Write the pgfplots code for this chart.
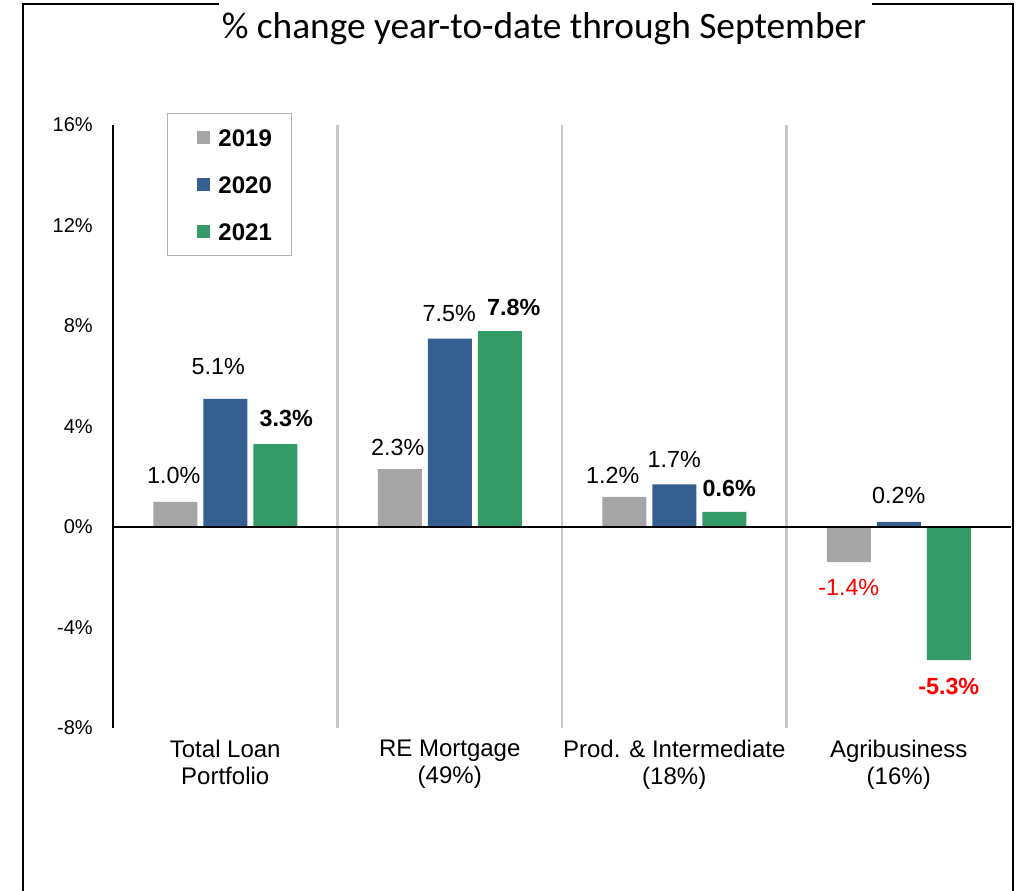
\documentclass[border=0pt]{standalone}
\usepackage{pgfplots}
\pgfplotsset{compat=1.18}
\usepackage{pgfplotstable}
\usepackage{fontspec}
\setmainfont{Liberation Sans}
\newfontfamily\titlefont{Carlito}
\definecolor{cgray}{HTML}{A5A5A5}
\definecolor{cblue}{HTML}{355F91}
\definecolor{cgreen}{HTML}{349A67}
\definecolor{csep}{HTML}{C8C8C8}
\pgfplotstableread{
x y dx dy
0 1.0 -1.1 1.1
1 2.3 -1.5 -2.6
2 1.2 -8.6 -2.6
3 -1.4 0 -0.4
}\tabA
\pgfplotstableread{
x y dx dy
0 5.1 -5.2 5.2
1 7.5 -0.4 0
2 1.7 0 -0.4
3 0.2 0 0.8
}\tabB
\pgfplotstableread{
x y dx dy
0 3.3 8.2 0.4
1 7.8 10.5 -1.5
2 0.6 3.8 -1.1
3 -5.3 0 -0.8
}\tabC
\pgfplotsset{shifted labels/.style={
  visualization depends on={\thisrow{dx}\as\dx},
  visualization depends on={\thisrow{dy}\as\dy},
  every node near coord/.append style={xshift=\dx pt, yshift=\dy pt}}}
\begin{document}
\begin{tikzpicture}
\useasboundingbox (0,0) rectangle (763.5pt,668.25pt);
\draw[line width=1.5pt] (17.25pt,0) -- (17.25pt,665.25pt) -- (164.25pt,665.25pt);
\draw[line width=1.5pt] (654pt,665.25pt) -- (759.75pt,665.25pt) -- (759.75pt,0);
\node[anchor=base, inner sep=0pt, font=\titlefont\fontsize{28}{32}\selectfont] at (408pt,639.5pt) {\% change year-to-date through September};
\begin{axis}[
  at={(84.75pt,122.25pt)}, anchor=south west,
  scale only axis, width=673.5pt, height=452.25pt,
  xmin=-0.5, xmax=3.5, ymin=-8, ymax=16,
  ybar=4.5pt, bar width=33pt,
  axis y line*=left, axis x line*=bottom,
  x axis line style={draw=none},
  y axis line style={black, line width=1.5pt, -},
  major tick length=0pt,
  ytick={-8,-4,0,4,8,12,16},
  yticklabel={\pgfmathprintnumber{\tick}\%},
  /pgf/number format/assume math mode=true,
  yticklabel style={font=\fontsize{15}{18}\selectfont, anchor=east, inner sep=0pt, xshift=-15pt},
  xtick={0,1,2,3},
  xticklabels={{Total Loan\\Portfolio},{RE Mortgage\\(49\%)},{Prod. \& Intermediate\\(18\%)},{Agribusiness\\(16\%)}},
  xticklabel style={font=\fontsize{18}{20.25}\selectfont, align=center, anchor=north, inner sep=0pt, yshift=-9pt},
  extra x ticks={0.5,1.5,2.5},
  extra x tick labels={},
  extra x tick style={grid=major, major grid style={draw=csep, line width=2.2pt}},
  nodes near coords={\pgfmathfloatifflags{\pgfplotspointmeta}{2}{\color{red}}{}\pgfmathprintnumber[fixed,fixed zerofill,precision=1]{\pgfplotspointmeta}\%},
  every node near coord/.append style={font=\fontsize{17.5}{20}\selectfont, inner xsep=0pt, inner ysep=12.5pt, text=black},
  legend style={at={(0.0601,1.0199)}, anchor=north west, draw=black!30, line width=0.75pt,
    inner xsep=15pt, inner ysep=11.5pt, row sep=22.25pt, column sep=6pt,
    font=\bfseries\fontsize{18}{18}\selectfont,
    nodes={inner sep=0pt, text height=13pt, text depth=0pt}},
  legend cell align=left,
  legend image code/.code={\path (0pt,0pt); \fill[#1] (7.5pt,-4.9pt) rectangle (17.25pt,4.9pt);},
  clip=false,
]
\addplot[fill=cgray, draw=none, shifted labels] table[x=x,y=y] {\tabA};
\addlegendentry{2019}
\addplot[fill=cblue, draw=none, shifted labels] table[x=x,y=y] {\tabB};
\addlegendentry{2020}
\addplot[fill=cgreen, draw=none, shifted labels, every node near coord/.append style={font=\bfseries\fontsize{17.5}{20}\selectfont}] table[x=x,y=y] {\tabC};
\addlegendentry{2021}
\draw[black, line width=1.5pt] (axis cs:-0.5,0) -- (axis cs:3.5,0);
\end{axis}
\end{tikzpicture}
\end{document}
